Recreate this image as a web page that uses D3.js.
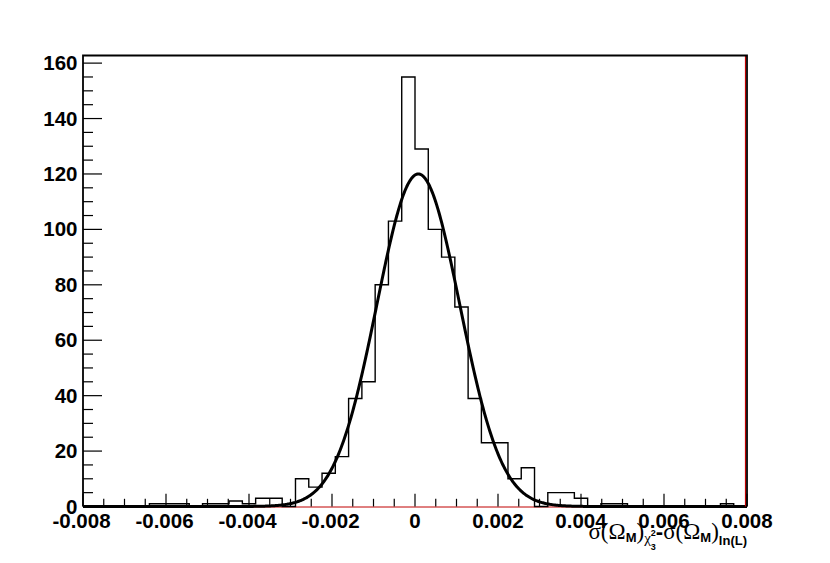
<!DOCTYPE html>
<html>
<head>
<meta charset="utf-8">
<script src="https://cdn.jsdelivr.net/npm/d3@7"></script>
<style>
  html, body { margin: 0; padding: 0; background: #fff; }
  svg { display: block; }
</style>
</head>
<body>
<svg id="chart" width="830" height="563"></svg>
<script>
// ---- data ----
const binLow = -0.008;
const binWidth = 0.00032;
const binCounts = [
  0, 0, 0, 0, 0, 1, 1, 1, 0, 1,
  1, 2, 1, 3, 3, 0, 10, 7, 12, 18,
  39, 45, 80, 103, 155, 129, 100, 90, 72, 39,
  23, 23, 10, 14, 0, 5, 5, 3, 0, 1,
  1, 0, 0, 0, 0, 0, 0, 0, 1, 0
];
const fitConstant = 120;
const fitMean = 0.00008;
const fitSigma = 0.00100;
const xTickValues = [-0.008, -0.006, -0.004, -0.002, 0, 0.002, 0.004, 0.006, 0.008];
const xTickLabels = ["-0.008", "-0.006", "-0.004", "-0.002", "0", "0.002", "0.004", "0.006", "0.008"];
const yTickValues = [0, 20, 40, 60, 80, 100, 120, 140, 160];
const xDomain = [-0.008, 0.008];
const yDomain = [0, 162.75];

// ---- layout ----
const svg = d3.select("#chart");
const pLeft = 83, pRight = 747, pTop = 55.5, pBottom = 506.5;
const x = d3.scaleLinear().domain(xDomain).range([pLeft, pRight]);
const y = d3.scaleLinear().domain(yDomain).range([pBottom, pTop]);
const sans = "'Liberation Sans', Arial, Helvetica, sans-serif";
const serif = "'Liberation Serif', 'Times New Roman', serif";

svg.append("rect").attr("width", 830).attr("height", 563).attr("fill", "#fff");

// red baseline (function line)
svg.append("line").attr("x1", x(xDomain[0])).attr("x2", x(xDomain[1]))
  .attr("y1", y(0) + 0.5).attr("y2", y(0) + 0.5).attr("stroke", "#c00000").attr("stroke-width", 1);

// histogram outline
const pts = [[binLow, 0]];
binCounts.forEach((c, i) => {
  pts.push([binLow + i * binWidth, c]);
  pts.push([binLow + (i + 1) * binWidth, c]);
});
pts.push([binLow + binCounts.length * binWidth, 0]);
svg.append("path")
  .attr("d", d3.line().x(d => x(d[0])).y(d => y(d[1]))(pts))
  .attr("fill", "none").attr("stroke", "#000").attr("stroke-width", 1.4);

// gaussian fit curve
const fitX = d3.range(0, 801).map(i => xDomain[0] + i * (xDomain[1] - xDomain[0]) / 800);
svg.append("path")
  .attr("d", d3.line()
    .x(d => x(d))
    .y(d => y(fitConstant * Math.exp(-0.5 * Math.pow((d - fitMean) / fitSigma, 2))))(fitX))
  .attr("fill", "none").attr("stroke", "#000").attr("stroke-width", 3)
  .attr("stroke-linejoin", "round");

// frame
svg.append("line").attr("x1", pRight - 1.5).attr("x2", pRight - 1.5).attr("y1", pTop).attr("y2", pBottom)
  .attr("stroke", "#c00000").attr("stroke-width", 1.2);
svg.append("path")
  .attr("d", `M${pLeft},${pBottom}V${pTop}H${pRight}V${pBottom}`)
  .attr("fill", "none").attr("stroke", "#000").attr("stroke-width", 1.8);

// y axis ticks (inside)
const yMinor = d3.range(0, 161, 5);
svg.append("g").selectAll("line").data(yMinor).join("line")
  .attr("x1", pLeft).attr("x2", d => pLeft + (d % 20 === 0 ? 19 : 10))
  .attr("y1", d => y(d)).attr("y2", d => y(d))
  .attr("stroke", "#000").attr("stroke-width", 1.2);
svg.append("g").selectAll("text").data(yTickValues).join("text")
  .attr("x", pLeft - 5.5).attr("y", d => y(d) + 7)
  .attr("text-anchor", "end")
  .attr("font-family", sans).attr("font-weight", "bold").attr("font-size", 20.5)
  .text(d => d);

// x axis ticks (inside)
const xMinor = d3.range(0, 33).map(i => -0.008 + i * 0.0005);
svg.append("g").selectAll("line").data(xMinor).join("line")
  .attr("x1", d => x(d)).attr("x2", d => x(d))
  .attr("y1", pBottom).attr("y2", (d, i) => pBottom - (i % 4 === 0 ? 12.7 : 7.7))
  .attr("stroke", "#000").attr("stroke-width", 1.2);
svg.append("g").selectAll("text").data(xTickValues).join("text")
  .attr("x", d => x(d) - (d < 0 ? 1.5 : 0)).attr("y", pBottom + 21)
  .attr("text-anchor", "middle")
  .attr("font-family", sans).attr("font-weight", "bold").attr("font-size", 20.5)
  .text((d, i) => xTickLabels[i]);

// axis title
const t = svg.append("text").attr("x", 747).attr("y", 538.5).attr("text-anchor", "end")
  .attr("fill", "#000");
function ts(txt, fam, size, weight, dy, dx) {
  const s = t.append("tspan").attr("font-family", fam).attr("font-size", size)
    .attr("font-weight", weight).text(txt);
  if (dy) s.attr("dy", dy);
  if (dx) s.attr("dx", dx);
  return s;
}
ts("σ(Ω", serif, 23, "normal", 0);
ts("M", sans, 13, "bold", 3.5);
ts(")", serif, 23, "normal", -3.5);
ts("χ", serif, 15, "normal", 4.5);
ts("2", sans, 9, "bold", -7);
ts("3", sans, 9, "bold", 14, -5);
ts("-", sans, 22, "bold", -11.5);
ts("σ(Ω", serif, 23, "normal", 0);
ts("M", sans, 13, "bold", 3.5);
ts(")", serif, 23, "normal", -3.5);
ts("ln(L)", sans, 13, "bold", 6);
</script>
</body>
</html>
